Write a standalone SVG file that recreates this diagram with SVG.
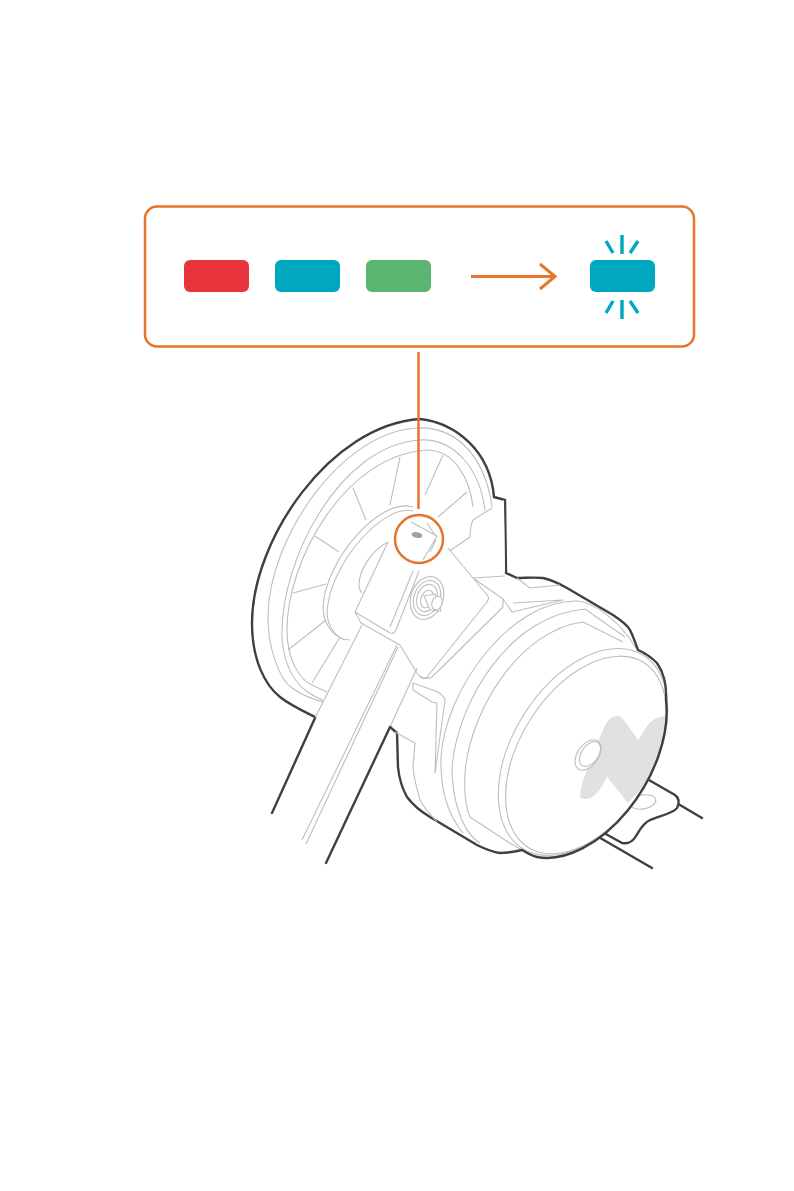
<svg xmlns="http://www.w3.org/2000/svg" width="794" height="1191" viewBox="0 0 794 1191">
<style>
.d{fill:none;stroke:#404041;stroke-width:2.4;stroke-linecap:round;stroke-linejoin:round}
.l{fill:none;stroke:#bcbec0;stroke-width:1.1;stroke-linejoin:round}
.w{fill:#fff;stroke:#bcbec0;stroke-width:1.1;stroke-linejoin:round}
.o{fill:none;stroke:#e4752a;stroke-width:2.5}
.r{fill:none;stroke:#00a7c0;stroke-width:3.4}
</style>
<defs><clipPath id="fc"><ellipse cx="583" cy="752" rx="114" ry="70" transform="rotate(-58 583 752)"/></clipPath></defs>
<rect width="794" height="1191" fill="#fff"/>
<g id="product">
<g id="wheel">
<path class="d" d="M315,717C305,712 290,705 280,697C265,685 252,660 252,623C252,540 330,425 420,419C455,423 490,450 494,497"/>
<path class="l" d="M327,703C315,700 303,696 292,688C280,680 268,650 268,617C268,540 340,432 417,428C455,426 485,455 492,507"/>
<path class="l" d="M323,700C318,698 310,694 305,690C292,680 283,660 282,637C280,560 340,445 420,440C455,438 480,470 485,510"/>
<path class="l" d="M329,693L312,685C300,680 287,660 287,630C287,560 345,455 427,450C455,450 470,480 473,507"/>
<path class="l" d="M400,457L390,505M353,488L366,520M315,536L339,552M293,593L326,584M288,650L326,620M312,683L340,637M443,455L425,495M467,492L438,517M453,550L463,546"/>
<path class="l" d="M413,507C380,497 325,560 323,607C323,625 335,640 350,640"/>
<path class="l" d="M413,511C385,503 330,562 327,612C327,628 338,638 345,640"/>
<path class="l" d="M388,542C372,550 359,570 359,585C359,588 360,591 362,593"/>
</g>
<g id="body">
<path class="l" d="M463,833C448,815 440,790 441,757C445,690 510,600 577,601C595,602 620,622 636,648"/>
<path class="l" d="M480,843C462,832 452,800 452,767C458,700 510,615 585,609L625,637"/>
<path class="l" d="M522,850L508,842L470,817C465,805 464,790 465,773C470,710 520,630 583,622L623,642"/>
</g>
<g id="plate">
<ellipse class="l" cx="643" cy="802" rx="13" ry="7" transform="rotate(-10 643 802)"/>
<path class="d" d="M635,772L675,795C679,798 680,802 677,808C674,813 660,816 650,820C642,824 640,830 636,836C632,843 627,844 622,843L595,828M680,805L702,818M590,832L652,868"/>
</g>
<g id="face">
<ellipse class="w" cx="583" cy="752" rx="114" ry="70" transform="rotate(-58 583 752)"/>
<ellipse class="l" cx="586" cy="755" rx="109" ry="66" transform="rotate(-58 586 755)"/>
<path clip-path="url(#fc)" fill="#e1e1e1" d="M580,798C580,790 582,782 585,775C595,750 600,735 607,722C612,715 618,714 622,718C630,728 633,733 638,740C643,733 648,722 655,719C665,715 668,715 670,717L668,750L650,780L628,803L607,777C603,785 600,790 595,795C590,799 585,800 580,798Z"/>
<ellipse cx="588" cy="755" rx="10.500" ry="17" transform="rotate(35 588 755)" class="w"/>
<ellipse cx="590" cy="754" rx="8.500" ry="14" transform="rotate(35 590 754)" class="l"/>
</g>
<path class="d" d="M494,497L505,500L506,573L517,578C525,578 535,577 543,578C552,580 560,584 567,588L613,615C622,621 628,626 630,630C634,638 636,645 638,650C645,653 652,658 657,663C663,672 667,682 666,700A114 70 -58 0 1 537,857C532,856 527,853 522,850C514,852 507,853 500,853C492,852 485,849 477,845L430,817C420,811 413,805 407,797C402,788 399,778 398,767L397,733L390,727"/>
<g id="bracket">
<path d="M473,520L493,508L504,500L505,572L473,578L448,548Z" fill="#fff"/>
<path class="l" d="M473,520L492,508M473,520C470,527 470,532 470,537L448,552M473,578L505,576M517,578L530,588L560,585M503,599L512,612L563,600L513,603"/>
<path class="l" d="M503,607L432,677C428,679 424,679 420,677"/>
<path class="l" d="M473,578L503,599L503,607"/>
<path class="w" d="M413,683L438,692C442,695 445,698 445,700L435,773L437,703L432,702L413,690Z"/>
<path class="l" d="M395,732L415,743L413,767C414,780 418,792 420,800C425,810 432,816 437,822"/>
</g>
<g id="arm">
<path d="M362,625L315,718L272,813L326,863L390,727L417,668L400,645Z" fill="#fff"/>
<path d="M355,612L388,542L411,522L437,536L448,548L488,598C489,600 488,602 487,602L427,677C424,680 419,676 417,673L400,645L361,623Z" fill="#fff"/>
<path class="l" d="M388,542L355,612L390,633C393,634 395,632 396,630L419,571"/>
<path class="l" d="M390,627L413,571"/>
<path class="l" d="M448,548L488,596C489,598 488,601 487,602L427,677C424,680 419,676 417,673L400,645L361,623L355,612"/>
<path class="l" d="M362,625L315,718M417,668L390,727M397,645L302,840M398,647L306,844"/>
<path class="d" d="M315,718L272,813M390,727L326,863"/>
</g>
<g id="sensor">
<path class="l" d="M411,522L437,536L423,560M427,523L435,535M436,540L430,552"/>
<ellipse cx="417" cy="535" rx="5.500" ry="2.800" fill="#a0a2a5" transform="rotate(12 417 535)"/>
</g>
<g id="nut">
<ellipse class="l" cx="427" cy="598" rx="16" ry="22" transform="rotate(20 427 598)"/>
<ellipse class="l" cx="427" cy="598" rx="13" ry="18" transform="rotate(20 427 598)"/>
<ellipse class="l" cx="427" cy="598" rx="10" ry="14" transform="rotate(20 427 598)"/>
<ellipse class="l" cx="427" cy="599" rx="6" ry="9" transform="rotate(20 427 599)"/>
<path class="w" d="M424,596L435,594L441,611L430,610Z"/>
<ellipse class="w" cx="437" cy="603" rx="5" ry="7" transform="rotate(20 437 603)"/>
</g>
</g>
<g id="connectors">
<line class="o" x1="418.500" y1="352" x2="418.500" y2="509"/>
<path class="o" style="stroke-width:3" d="M471,276.500H553M540,264L555,276.500L540,289"/>
</g>
<g id="callout-ring"><circle class="o" cx="419" cy="539" r="24"/></g>
<g id="panel"><rect class="o" x="145" y="206.500" width="549" height="140" rx="12"/></g>
<g id="led-red"><rect x="184" y="260" width="65" height="32" rx="6" fill="#e8353c"/></g>
<g id="led-blue"><rect x="275" y="260" width="65" height="32" rx="6" fill="#00a7c0"/></g>
<g id="led-green"><rect x="366" y="260" width="65" height="32" rx="6" fill="#5cb56e"/></g>
<g id="led-blink"><rect x="590" y="260" width="65" height="32" rx="6" fill="#00a7c0"/>
<path class="r" d="M622,235V254M606,241L613,253M638,241L630,253M622,300V319M613,301L606,313M630,301L638,313"/></g>
</svg>
